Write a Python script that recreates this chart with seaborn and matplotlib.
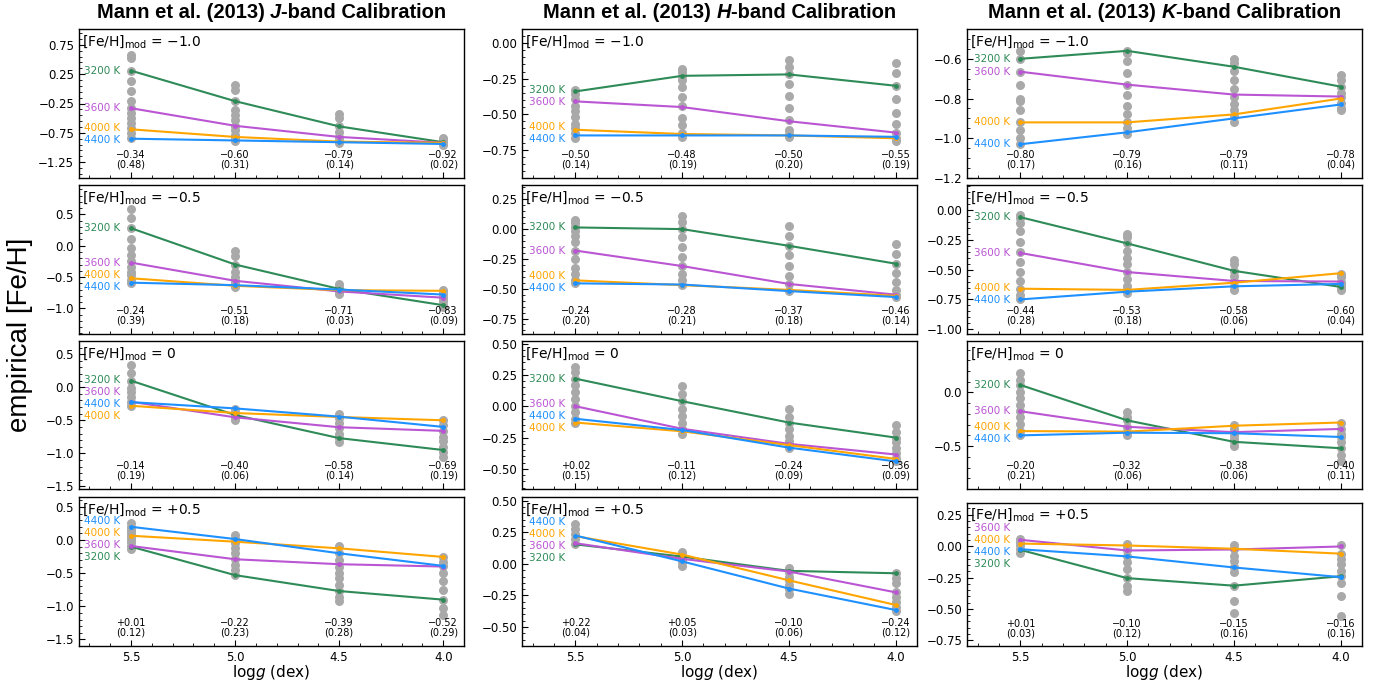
import matplotlib
matplotlib.use("Agg")
import matplotlib.pyplot as plt
import matplotlib.transforms as mtransforms
from matplotlib.ticker import AutoMinorLocator
import numpy as np
import pandas as pd
import seaborn as sns

# ---------------------------------------------------------------- data
LOGG = [5.5, 5.0, 4.5, 4.0]
TEFF = [3200, 3600, 4000, 4400]
BANDS = ["J", "H", "K"]
FEH_MOD_LABELS = ["\u22121.0", "\u22120.5", "0", "+0.5"]

# ---- [Fe/H]_mod = -1.0
J_M10_LINES = [[0.31, -0.21, -0.64, -0.91], [-0.33, -0.63, -0.82, -0.92],
               [-0.69, -0.82, -0.90, -0.92], [-0.85, -0.88, -0.91, -0.94]]
J_M10_GRAY = [[0.58, 0.52, 0.30, 0.13, -0.04, -0.20, -0.33, -0.41, -0.50, -0.58, -0.67, -0.76, -0.84],
              [0.07, -0.02, -0.20, -0.36, -0.44, -0.53, -0.63, -0.70, -0.78, -0.84, -0.89],
              [-0.43, -0.50, -0.64, -0.73, -0.82, -0.87, -0.92],
              [-0.84, -0.88, -0.91, -0.93, -0.95]]
J_M10_MEAN = [-0.34, -0.60, -0.79, -0.92]
J_M10_STD = [0.48, 0.31, 0.14, 0.02]

H_M10_LINES = [[-0.34, -0.23, -0.22, -0.30], [-0.41, -0.45, -0.55, -0.63],
               [-0.61, -0.64, -0.65, -0.67], [-0.65, -0.65, -0.65, -0.66]]
H_M10_GRAY = [[-0.33, -0.36, -0.39, -0.44, -0.48, -0.52, -0.57, -0.60, -0.63, -0.67],
              [-0.18, -0.20, -0.23, -0.26, -0.31, -0.38, -0.44, -0.53, -0.58, -0.63, -0.66],
              [-0.12, -0.17, -0.22, -0.29, -0.37, -0.46, -0.54, -0.61, -0.64, -0.66],
              [-0.14, -0.21, -0.30, -0.39, -0.49, -0.57, -0.63, -0.67, -0.69]]
H_M10_MEAN = [-0.50, -0.48, -0.50, -0.55]
H_M10_STD = [0.14, 0.19, 0.20, 0.19]

K_M10_LINES = [[-0.60, -0.56, -0.64, -0.74], [-0.665, -0.73, -0.78, -0.79],
               [-0.92, -0.92, -0.88, -0.80], [-1.03, -0.97, -0.90, -0.83]]
K_M10_GRAY = [[-0.56, -0.60, -0.665, -0.73, -0.80, -0.81, -0.86, -0.92, -0.96, -1.00, -1.03],
              [-0.56, -0.57, -0.61, -0.67, -0.73, -0.78, -0.84, -0.88, -0.92, -0.95, -0.98],
              [-0.60, -0.62, -0.66, -0.705, -0.75, -0.79, -0.83, -0.86, -0.89, -0.92],
              [-0.68, -0.705, -0.74, -0.77, -0.79, -0.82, -0.85, -0.86]]
K_M10_MEAN = [-0.80, -0.79, -0.79, -0.78]
K_M10_STD = [0.17, 0.16, 0.11, 0.04]

# ---- [Fe/H]_mod = -0.5
J_M05_LINES = [[0.28, -0.30, -0.69, -0.95], [-0.27, -0.56, -0.73, -0.83],
               [-0.52, -0.64, -0.71, -0.72], [-0.59, -0.63, -0.70, -0.78]]
J_M05_GRAY = [[0.585, 0.45, 0.28, 0.11, -0.04, -0.15, -0.245, -0.335, -0.415, -0.47, -0.54, -0.59],
              [-0.08, -0.165, -0.30, -0.415, -0.495, -0.56, -0.61, -0.655],
              [-0.61, -0.655, -0.70, -0.735, -0.77],
              [-0.70, -0.735, -0.78, -0.83, -0.88, -0.95, -0.985]]
J_M05_MEAN = [-0.24, -0.51, -0.71, -0.83]
J_M05_STD = [0.39, 0.18, 0.03, 0.09]

H_M05_LINES = [[0.014, 0.0, -0.14, -0.29], [-0.18, -0.31, -0.46, -0.55],
               [-0.43, -0.47, -0.51, -0.56], [-0.455, -0.465, -0.52, -0.57]]
H_M05_GRAY = [[0.074, 0.051, 0.014, -0.017, -0.054, -0.11, -0.18, -0.25, -0.33, -0.38, -0.43, -0.455],
              [0.11, 0.06, 0.0, -0.07, -0.15, -0.23, -0.31, -0.38, -0.43, -0.465],
              [0.023, -0.054, -0.14, -0.22, -0.31, -0.39, -0.46, -0.52],
              [-0.125, -0.205, -0.29, -0.365, -0.445, -0.51, -0.55, -0.57]]
H_M05_MEAN = [-0.24, -0.28, -0.37, -0.46]
H_M05_STD = [0.20, 0.21, 0.18, 0.14]

K_M05_LINES = [[-0.06, -0.28, -0.51, -0.645], [-0.36, -0.52, -0.595, -0.60],
               [-0.66, -0.67, -0.61, -0.53], [-0.75, -0.685, -0.64, -0.62]]
K_M05_GRAY = [[-0.04, -0.07, -0.11, -0.18, -0.27, -0.355, -0.435, -0.52, -0.595, -0.665, -0.715, -0.75],
              [-0.20, -0.225, -0.28, -0.34, -0.40, -0.455, -0.52, -0.58, -0.635, -0.67, -0.70],
              [-0.42, -0.45, -0.51, -0.55, -0.595, -0.64, -0.67],
              [-0.535, -0.565, -0.60, -0.62, -0.645, -0.67]]
K_M05_MEAN = [-0.44, -0.53, -0.58, -0.60]
K_M05_STD = [0.28, 0.18, 0.06, 0.04]

# ---- [Fe/H]_mod = 0
J_00_LINES = [[0.10, -0.42, -0.77, -0.95], [-0.22, -0.455, -0.605, -0.66],
              [-0.28, -0.39, -0.45, -0.50], [-0.225, -0.32, -0.445, -0.60]]
J_00_GRAY = [[0.34, 0.21, 0.10, -0.005, -0.075, -0.14, -0.22, -0.29],
             [-0.33, -0.38, -0.42, -0.46, -0.495],
             [-0.40, -0.47, -0.545, -0.62, -0.70, -0.77, -0.83],
             [-0.495, -0.57, -0.66, -0.75, -0.82, -0.90, -0.975, -1.05]]
J_00_MEAN = [-0.14, -0.40, -0.58, -0.69]
J_00_STD = [0.19, 0.06, 0.14, 0.19]

H_00_LINES = [[0.22, 0.04, -0.13, -0.25], [0.0, -0.18, -0.30, -0.385],
              [-0.13, -0.20, -0.31, -0.42], [-0.10, -0.19, -0.33, -0.44]]
H_00_GRAY = [[0.315, 0.275, 0.22, 0.17, 0.115, 0.06, 0.0, -0.05, -0.10, -0.13],
             [0.165, 0.10, 0.04, -0.02, -0.08, -0.13, -0.18, -0.22],
             [-0.02, -0.085, -0.13, -0.185, -0.235, -0.275, -0.31, -0.33],
             [-0.15, -0.205, -0.25, -0.285, -0.33, -0.375, -0.41, -0.44]]
H_00_MEAN = [0.02, -0.11, -0.24, -0.36]
H_00_STD = [0.15, 0.12, 0.09, 0.09]

K_00_LINES = [[0.07, -0.26, -0.46, -0.52], [-0.175, -0.32, -0.37, -0.34],
              [-0.36, -0.365, -0.31, -0.28], [-0.40, -0.375, -0.38, -0.415]]
K_00_GRAY = [[0.18, 0.115, 0.07, 0.005, -0.055, -0.12, -0.175, -0.23, -0.29, -0.36, -0.40],
             [-0.18, -0.23, -0.26, -0.32, -0.365, -0.40],
             [-0.305, -0.34, -0.37, -0.40, -0.43, -0.46, -0.495],
             [-0.28, -0.34, -0.385, -0.415, -0.46, -0.52, -0.58, -0.635]]
K_00_MEAN = [-0.20, -0.32, -0.38, -0.40]
K_00_STD = [0.21, 0.06, 0.06, 0.11]

# ---- [Fe/H]_mod = +0.5
J_P05_LINES = [[-0.10, -0.53, -0.77, -0.90], [-0.09, -0.29, -0.365, -0.40],
               [0.065, -0.025, -0.125, -0.255], [0.20, 0.015, -0.20, -0.39]]
J_P05_GRAY = [[0.25, 0.20, 0.15, 0.10, 0.065, 0.02, -0.03, -0.09, -0.13],
              [0.07, 0.015, -0.05, -0.125, -0.20, -0.29, -0.38, -0.455, -0.53],
              [-0.09, -0.20, -0.30, -0.40, -0.495, -0.58, -0.68, -0.77, -0.86, -0.92],
              [-0.25, -0.33, -0.395, -0.495, -0.615, -0.76, -0.90, -1.02, -1.135]]
J_P05_MEAN = [0.01, -0.22, -0.39, -0.52]
J_P05_STD = [0.12, 0.23, 0.28, 0.29]

H_P05_LINES = [[0.155, 0.058, -0.055, -0.074], [0.164, 0.04, -0.06, -0.225],
               [0.22, 0.074, -0.13, -0.325], [0.225, 0.02, -0.195, -0.365]]
H_P05_GRAY = [[0.315, 0.28, 0.24, 0.20, 0.16],
              [0.095, 0.065, 0.04, 0.015, -0.02],
              [-0.03, -0.065, -0.10, -0.13, -0.165, -0.20, -0.235],
              [-0.075, -0.11, -0.15, -0.225, -0.265, -0.305, -0.345, -0.375]]
H_P05_MEAN = [0.22, 0.05, -0.10, -0.24]
H_P05_STD = [0.04, 0.03, 0.06, 0.12]

K_P05_LINES = [[-0.03, -0.255, -0.315, -0.24], [0.05, -0.035, -0.027, -0.003],
               [0.02, 0.005, -0.021, -0.06], [-0.025, -0.082, -0.17, -0.247]]
K_P05_GRAY = [[0.06, 0.03, 0.005, -0.027, -0.056],
              [0.02, -0.01, -0.035, -0.08, -0.13, -0.18, -0.255, -0.315, -0.355],
              [0.005, -0.02, -0.075, -0.115, -0.17, -0.205, -0.315, -0.435, -0.535],
              [0.005, -0.06, -0.10, -0.14, -0.195, -0.24, -0.295, -0.395, -0.555]]
K_P05_MEAN = [0.01, -0.10, -0.15, -0.16]
K_P05_STD = [0.03, 0.12, 0.16, 0.16]

# axis ranges and ticks per panel (row, col)
YLIMS = [[(-1.52, 1.02), (-0.95, 0.10), (-1.20, -0.45)],
         [(-1.41, 0.97), (-0.88, 0.37), (-1.04, 0.21)],
         [(-1.54, 0.70), (-0.66, 0.52), (-0.90, 0.48)],
         [(-1.60, 0.65), (-0.65, 0.53), (-0.795, 0.343)]]
YTICKS = [[[0.75, 0.25, -0.25, -0.75, -1.25], [0.0, -0.25, -0.5, -0.75], [-0.6, -0.8, -1.0, -1.2]],
          [[0.5, 0.0, -0.5, -1.0], [0.25, 0.0, -0.25, -0.5, -0.75], [0.0, -0.25, -0.5, -0.75, -1.0]],
          [[0.5, 0.0, -0.5, -1.0, -1.5], [0.5, 0.25, 0.0, -0.25, -0.5], [0.0, -0.5]],
          [[0.5, 0.0, -0.5, -1.0, -1.5], [0.5, 0.25, 0.0, -0.25, -0.5], [0.25, 0.0, -0.25, -0.5, -0.75]]]

PANELS = [
    [(J_M10_LINES, J_M10_GRAY, J_M10_MEAN, J_M10_STD), (H_M10_LINES, H_M10_GRAY, H_M10_MEAN, H_M10_STD),
     (K_M10_LINES, K_M10_GRAY, K_M10_MEAN, K_M10_STD)],
    [(J_M05_LINES, J_M05_GRAY, J_M05_MEAN, J_M05_STD), (H_M05_LINES, H_M05_GRAY, H_M05_MEAN, H_M05_STD),
     (K_M05_LINES, K_M05_GRAY, K_M05_MEAN, K_M05_STD)],
    [(J_00_LINES, J_00_GRAY, J_00_MEAN, J_00_STD), (H_00_LINES, H_00_GRAY, H_00_MEAN, H_00_STD),
     (K_00_LINES, K_00_GRAY, K_00_MEAN, K_00_STD)],
    [(J_P05_LINES, J_P05_GRAY, J_P05_MEAN, J_P05_STD), (H_P05_LINES, H_P05_GRAY, H_P05_MEAN, H_P05_STD),
     (K_P05_LINES, K_P05_GRAY, K_P05_MEAN, K_P05_STD)],
]

# ---------------------------------------------------------------- style
sns.set_style("ticks")
plt.rcParams["font.family"] = ["DejaVu Sans"]
plt.rcParams["axes.edgecolor"] = "black"
plt.rcParams["axes.linewidth"] = 1.0
plt.rcParams["xtick.color"] = "black"
plt.rcParams["ytick.color"] = "black"
plt.rcParams["text.color"] = "black"
plt.rcParams["axes.labelcolor"] = "black"

PALETTE = {3200: "#2e8b57", 3600: "#ba55d3", 4000: "#ffa500", 4400: "#1e90ff"}
GRAY = "#a9a9a9"

W, H = 1382, 687
fig = plt.figure(figsize=(W / 100, H / 100), dpi=100)

COL_X = [(79, 464), (522, 917), (967, 1362)]
ROW_Y = [(29, 178), (185, 334), (341, 489), (497, 646)]


def add_ax(l, r, t, b):
    return fig.add_axes([l / W, 1 - b / H, (r - l) / W, (b - t) / H])


def spread_labels(vals, d):
    """Order labels by value and push overlapping ones apart (centered clusters)."""
    order = sorted(range(len(vals)), key=lambda i: -vals[i])
    clusters = [[i] for i in order]
    while True:
        pos = {}
        for c in clusters:
            cen = np.mean([vals[i] for i in c])
            k = len(c)
            for j, i in enumerate(c):
                pos[i] = cen + d * ((k - 1) / 2 - j)
        merged = False
        for a in range(len(clusters) - 1):
            low = pos[clusters[a][-1]]
            high = pos[clusters[a + 1][0]]
            if low - high < d - 1e-9:
                clusters[a] = clusters[a] + clusters[a + 1]
                del clusters[a + 1]
                merged = True
                break
        if not merged:
            return pos


def fmt_mean(m):
    return f"{m:+.2f}".replace("-", "\u2212")


for r in range(4):
    for c in range(3):
        lines, gray, means, stds = PANELS[r][c]
        l, rr = COL_X[c]
        t, b = ROW_Y[r]
        if r == 3 and c == 2:
            t = 503
        ax = add_ax(l, rr, t, b)

        gdf = pd.DataFrame([(g, v) for g, col in zip(LOGG, gray) for v in col], columns=["logg", "feh"])
        sns.scatterplot(data=gdf, x="logg", y="feh", color=GRAY, s=42, linewidth=0,
                        ax=ax, zorder=1, legend=False)

        ldf = pd.DataFrame([(g, v, T) for T, ser in zip(TEFF, lines) for g, v in zip(LOGG, ser)],
                           columns=["logg", "feh", "teff"])
        sns.lineplot(data=ldf, x="logg", y="feh", hue="teff", hue_order=TEFF, palette=PALETTE,
                     marker="o", markersize=3.5, markeredgewidth=0, linewidth=1.5,
                     errorbar=None, legend=False, ax=ax, zorder=2)

        ax.set_xlim(5.75, 3.9)
        ylo, yhi = YLIMS[r][c]
        ax.set_ylim(ylo, yhi)
        ax.set_xticks(LOGG)
        ax.set_yticks(YTICKS[r][c])
        ax.xaxis.set_minor_locator(AutoMinorLocator())
        ax.yaxis.set_minor_locator(AutoMinorLocator())
        ax.tick_params(which="both", direction="in", top=False, right=False, labelsize=8.5,
                       colors="black")
        ax.tick_params(which="major", length=4, width=0.8)
        ax.tick_params(which="minor", length=2, width=0.6)
        ax.set_xlabel("")
        ax.set_ylabel("")
        if r < 3:
            ax.tick_params(axis="x", labelbottom=False)
        for sp in ax.spines.values():
            sp.set_visible(True)
            sp.set_color("black")

        # model metallicity tag
        ax.text(0.007, 0.975, "[Fe/H]$_{\\rm mod}$ = " + FEH_MOD_LABELS[r], transform=ax.transAxes,
                ha="left", va="top", fontsize=10, color="black")

        # mean / std annotations
        trans = mtransforms.blended_transform_factory(ax.transData, ax.transAxes)
        for g, m, s in zip(LOGG, means, stds):
            ax.text(g, 0.055, f"{fmt_mean(m)}\n({s:.2f})", transform=trans, ha="center",
                    va="bottom", fontsize=7, linespacing=0.95, color="black")

        # temperature labels
        first = [ser[0] for ser in lines]
        d = 12.0 / (b - t) * (yhi - ylo)
        pos = spread_labels(first, d)
        for i, T in enumerate(TEFF):
            ax.annotate(f"{T} K", xy=(LOGG[0], pos[i]), xytext=(-7.5, 0), textcoords="offset points",
                        ha="right", va="center", fontsize=7.5, color=PALETTE[T])

# ---------------------------------------------------------------- titles / labels
renderer = fig.canvas.get_renderer()
TFAM = "Liberation Sans"
TSIZE = 14.5


def text_width(s, style):
    tt = fig.text(0, 0, s, fontsize=TSIZE, fontweight="bold", style=style, family=TFAM)
    w = tt.get_window_extent(renderer).width
    tt.remove()
    return w


space_w = text_width("x x", "normal") - text_width("xx", "normal")
for c, band in enumerate(BANDS):
    parts = [("Mann et al. (2013)", "normal"), (None, None), (band, "italic"), ("-band Calibration", "normal")]
    widths = [space_w if s is None else text_width(s, st) for s, st in parts]
    xc = (COL_X[c][0] + COL_X[c][1]) / 2
    x = xc - sum(widths) / 2
    for (s, st), w in zip(parts, widths):
        if s is not None:
            fig.text(x / W, 1 - 13 / H, s, fontsize=TSIZE, fontweight="bold", style=st, family=TFAM,
                     ha="left", va="center", color="black")
        x += w
    fig.text(xc / W, 1 - 673 / H, "log$g$ (dex)", fontsize=11, ha="center", va="center", color="black")

fig.text(20 / W, 1 - 335 / H, "empirical [Fe/H]", rotation=90, fontsize=20, family=TFAM,
         ha="center", va="center", color="black")

fig.savefig("out.png", dpi=100)
